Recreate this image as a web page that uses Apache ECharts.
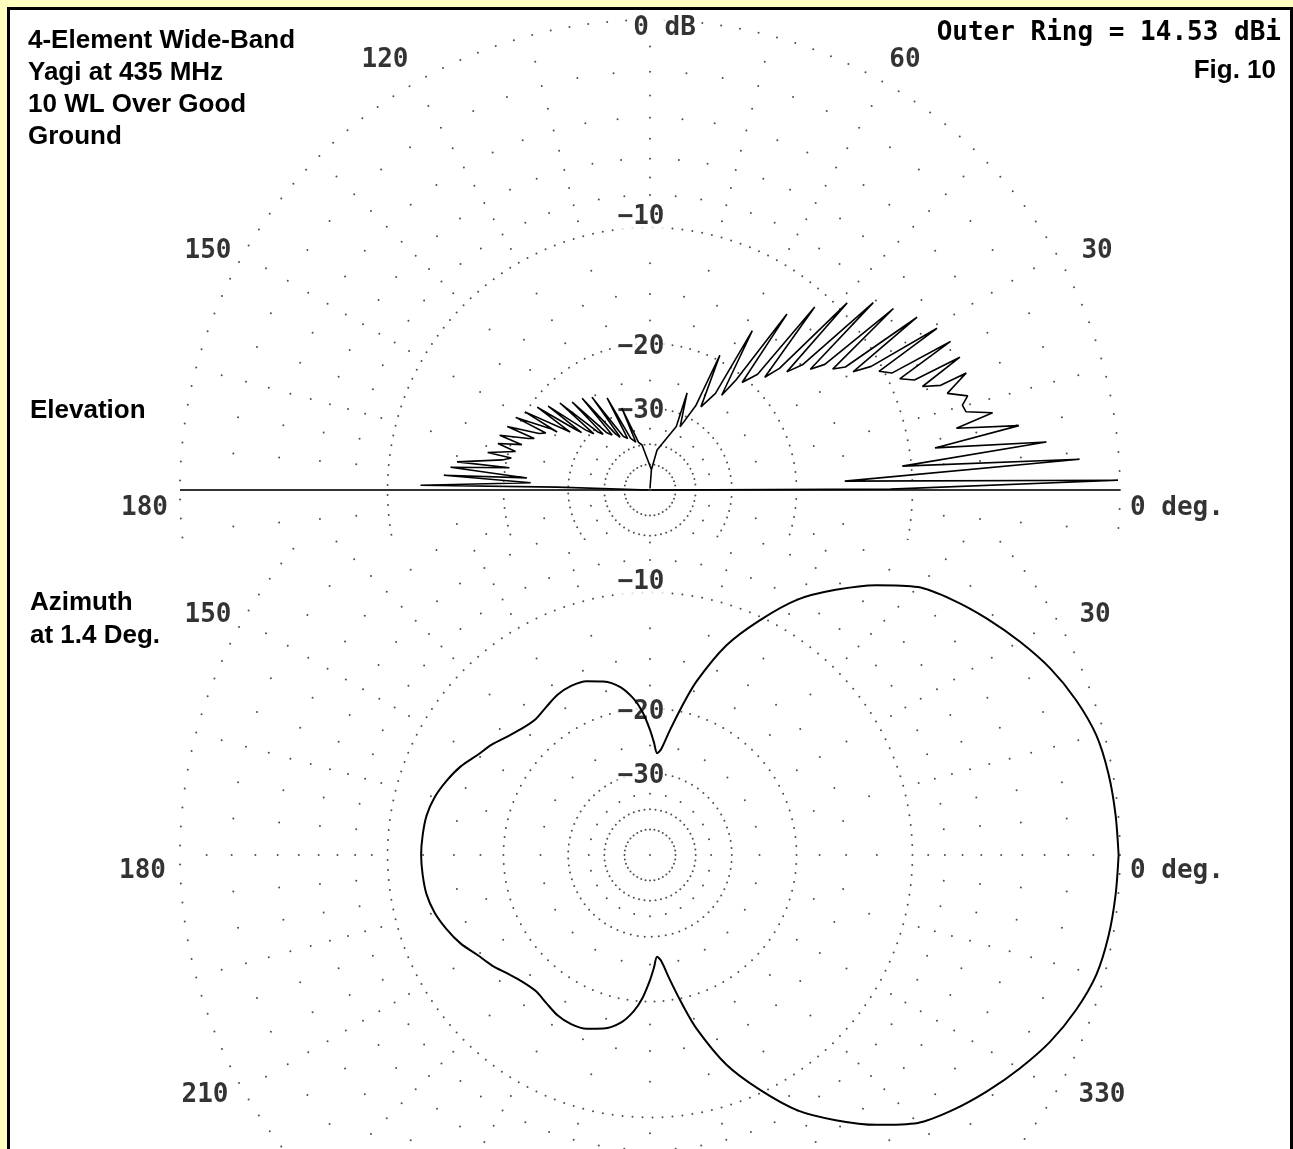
<!DOCTYPE html>
<html>
<head>
<meta charset="utf-8">
<script src="https://cdn.jsdelivr.net/npm/echarts@6/dist/echarts.min.js"></script>
<style>
  html, body { margin: 0; padding: 0; width: 1293px; height: 1149px; overflow: hidden; background: #ffffc0; }
  #frame { position: absolute; left: 7px; top: 7px; width: 1280px; height: 1170px;
           border-left: 3px solid #000; border-top: 3px solid #000; border-right: 3px solid #000; background: #fff; }
  #elev { position: absolute; left: 0; top: 0; width: 1293px; height: 540px; }
  #azim { position: absolute; left: 0; top: 540px; width: 1293px; height: 609px; }
</style>
</head>
<body>
<div id="frame"></div>
<div id="elev"></div>
<div id="azim"></div>
<script>
// ---------------- pattern data (dB relative to the outer ring) ----------------
// Elevation trace, in drawing order from 180 deg (rear horizon) over the zenith to 0 deg.
const elevAngles = [
  180, 178.2, 178.8, 176.5, 175.9, 174.4, 173.5, 171.0, 171.7, 168.5,
  167.0, 167.0, 164.0,  163.5, 163.0, 160.5,  160.0, 160.0, 157.0,
  156.0, 156.0, 153.0,  151.3, 151.6, 148.3,  148.0, 148.0, 145.0,
  144.0, 143.7, 141.0,  140.0, 140.5, 137.0,  135.0, 136.0, 132.0,
  130.0, 131.5, 127.0,  124.5, 126.5, 121.5,  119.5, 122.0, 116.5,
  113.5, 115.0, 110.5,  106.5, 109.0, 103.5,
  100.0, 86.0, 90.0, 86.0, 80.0,
  67.5, 69.1, 64.5,  61.5, 62.6, 58.5,  55.9, 57.3, 52.9,  52.0, 52.1, 49.4,
  47.1, 48.0, 44.5,  43.2, 43.5, 40.8,  39.4, 40.0, 37.0,  35.7, 36.7, 33.5,
  32.2, 32.9, 30.2,  29.2, 29.4, 27.4,  25.8, 26.3, 24.0,  22.6, 23.2, 20.8,
  19.8, 20.3, 18.0,
  16.5, 15.2, 13.9, 12.7, 11.4, 9.9, 8.4, 6.9, 5.4, 4.1, 2.6, 1.2, 0.2, 0
];
const elevDb = [
  -99, -27.8, -12.3, -23.5, -14.1, -22.9, -14.6, -20.5, -15.1, -19.5,
  -20.5, -17.8, -20.8,  -21.0, -18.6, -21.3,  -21.5, -18.5, -21.8,
  -22.5, -18.9, -22.8,  -23.6, -19.3, -23.9,  -25.0, -19.9, -25.3,
  -26.8, -20.8, -27.1,  -28.5, -21.8, -28.8,  -30.5, -22.7, -30.8,
  -32.0, -23.8, -32.3,  -33.5, -24.3, -33.8,  -35.0, -25.0, -35.3,
  -36.5, -26.3, -36.8,  -38.5, -29.0, -38.8,
  -40, -54, -99, -54, -42,
  -33, -25.9, -32.7,  -27.3, -19.4, -27.0,  -23.9, -15.6, -23.6,  -20.9, -12.8, -20.6,
  -18.7, -11.1, -18.4,  -16.7, -9.4, -16.4,  -14.9, -8.2, -14.6,  -13.4, -7.5, -13.1,
  -12.2, -6.7, -11.9,  -10.6, -6.1, -10.3,  -9.6, -5.8, -9.3,  -8.5, -5.7, -8.2,
  -7.2, -5.7, -7.0,
  -6.0, -6.4, -6.3, -5.0, -7.0, -3.9, -8.4, -2.8, -10.6, -1.5, -15.1, -0.07, -11.5, -99
];

// Azimuth trace at 1.4 deg elevation.
const azAngles = [
  0, 5, 10, 15, 20, 25, 30, 35, 40, 45, 50, 55, 60, 65, 70, 75, 78, 81, 84, 86, 88,
  90, 93, 96, 100, 105, 110, 115, 120, 125, 130, 135, 140, 145, 150, 155, 160, 165,
  170, 175, 180, 185, 190, 195, 200, 205, 210, 215, 220, 225, 230, 235, 240, 245,
  250, 255, 260, 264, 267, 270, 272, 274, 276, 279, 282, 285, 290, 295, 300, 305,
  310, 315, 320, 325, 330, 335, 340, 345, 350, 355, 360
];
const azDb = [
  -0.05, -0.10, -0.16, -0.29, -0.62, -1.07, -1.65, -2.27, -2.93, -3.70, -4.95, -6.4,
  -8.0, -10.25, -12.8, -16.5, -19.5, -22.6, -25.5, -26.2, -24.5,
  -22.7, -20.4, -18.8, -17.4, -16.5, -16.0, -15.85, -16.0, -16.4, -16.7, -16.5,
  -16.0, -15.3, -14.7, -13.9, -13.3, -12.8, -12.5, -12.4, -12.35, -12.4, -12.5,
  -12.8, -13.3, -13.9, -14.7, -15.3, -16.0, -16.5, -16.7, -16.4, -16.0, -15.85,
  -16.0, -16.5, -17.4, -18.8, -20.4, -22.7, -24.5, -26.2, -25.5, -22.6, -19.5,
  -16.5, -12.8, -10.25, -8.0, -6.4, -4.95, -3.70, -2.93, -2.27, -1.65, -1.07,
  -0.62, -0.29, -0.16, -0.10, -0.05
];

// ---------------- labels ----------------
const titleLines = ['4-Element Wide-Band', 'Yagi at 435 MHz', '10 WL Over Good', 'Ground'];
const outerRingText = 'Outer Ring = 14.53 dBi';
const figText = 'Fig. 10';
const elevTitle = 'Elevation';
const azTitleLines = ['Azimuth', 'at 1.4 Deg.'];

const elevRingLabelDb = [0, -10, -20, -30];
const elevRingLabels = ['0 dB', '\u221210', '\u221220', '\u221230'];
const azRingLabelDb = [-10, -20, -30];
const azRingLabels = ['\u221210', '\u221220', '\u221230'];

const elevTickAngles = [0, 30, 60, 120, 150, 180];
const elevTickLabels = ['0 deg.', '30', '60', '120', '150', '180'];
const azTickAngles = [0, 30, 150, 180, 210, 330];
const azTickLabels = ['0 deg.', '30', '150', '180', '210', '330'];

// ---------------- scale ----------------
const PLOT_R = 470;                 // outer ring radius, px
// ARRL log-periodic scale: radius shrinks by a factor 0.89 every 2 dB.
function toRadius(db) { return Math.pow(0.89, -db / 2); }

const MONO = '"DejaVu Sans Mono", "Liberation Mono", monospace';
const SANS = '"Liberation Sans", Arial, sans-serif';

// grid rings: dotted major circles and a sparser lattice of dots
const majorRings = [0, -10, -20, -30, -40, -50];
const majorDotGap = [19, 10, 9, 7, 5.5, 4.5];
const latticeRings = [-1, -2, -3, -4, -5, -6, -7, -8, -9, -12.5, -15, -17.5, -25, -35];
const latticeStep = [15, 5, 15, 5, 15, 5, 15, 5, 15, 15, 10, 15, 15, 15];

function gridDots() {
  const pts = [[0, 0]];
  majorRings.forEach((db, i) => {
    const r = toRadius(db);
    const n = Math.round(2 * Math.PI * PLOT_R * r / majorDotGap[i]);
    for (let k = 0; k < n; k++) pts.push([r, k * 360 / n]);
  });
  latticeRings.forEach((db, i) => {
    const r = toRadius(db);
    for (let a = 0; a < 360; a += latticeStep[i]) pts.push([r, a]);
  });
  return pts;
}

function gridSeries() {
  return {
    type: 'scatter', coordinateSystem: 'polar', silent: true, clip: false,
    symbol: 'circle', symbolSize: 2, z: 1,
    itemStyle: { color: '#222' },
    data: gridDots()
  };
}

function traceSeries(angles, dbs, width, smooth) {
  return {
    type: 'line', coordinateSystem: 'polar', showSymbol: false, silent: true, clip: false,
    z: 5, smooth: smooth || false, lineStyle: { color: '#000', width: width },
    data: angles.map((a, i) => [toRadius(dbs[i]), a])
  };
}

function labelSeries(items) {
  return {
    type: 'scatter', coordinateSystem: 'polar', symbolSize: 0, silent: true, clip: false, z: 3,
    data: items.map(it => ({
      value: [it.r, it.angle],
      label: {
        show: true, position: 'inside', formatter: it.text, align: it.align || 'center',
        verticalAlign: 'middle', offset: it.offset,
        fontFamily: MONO, fontSize: 26, fontWeight: 'bold', color: '#000',
        backgroundColor: it.bg || 'transparent'
      }
    }))
  };
}

function baseAxes(cy) {
  return {
    polar: { center: [650, cy], radius: PLOT_R },
    angleAxis: { type: 'value', min: 0, max: 360, startAngle: 0, clockwise: false, show: false },
    radiusAxis: { type: 'value', min: 0, max: 1, show: false }
  };
}

function sansText(text, x, y, align) {
  return {
    type: 'text', silent: true, z: 10,
    style: { text: text, x: x, y: y + 3, font: 'bold 26px ' + SANS, fill: '#000',
             align: align || 'left', verticalAlign: 'middle',
             textAlign: align || 'left', textVerticalAlign: 'middle' }
  };
}
function monoText(text, x, y, align) {
  return {
    type: 'text', silent: true, z: 10,
    style: { text: text, x: x, y: y + 3, font: 'bold 26px ' + MONO, fill: '#000',
             align: align || 'left', verticalAlign: 'middle',
             textAlign: align || 'left', textVerticalAlign: 'middle' }
  };
}

// ---------------- elevation chart ----------------
const elevTickOffsets = { 0: [10, 18], 30: [40, -4], 60: [20, -23], 120: [-30, -23], 150: [-35, -4], 180: [-12, 18] };
const elevTickAlign = { 0: 'left', 180: 'right' };
const ringOffsets = { 0: [14.5, 8], '-10': [-9, -10], '-20': [-9, 4], '-30': [-9, 3] };

const elevLabels = [];
elevRingLabelDb.forEach((db, i) => elevLabels.push({
  r: toRadius(db), angle: 90, text: elevRingLabels[i], offset: ringOffsets[db], bg: '#fff' }));
elevTickAngles.forEach((a, i) => elevLabels.push({
  r: 1, angle: a, text: elevTickLabels[i], offset: elevTickOffsets[a], align: elevTickAlign[a] }));

const elevChart = echarts.init(document.getElementById('elev'), null, { renderer: 'canvas' });
elevChart.setOption(Object.assign(baseAxes(490), {
  animation: false,
  backgroundColor: 'transparent',
  graphic: [
    ...titleLines.map((t, i) => sansText(t, 28, 38 + 32 * i)),
    sansText(elevTitle, 30, 408),
    monoText(outerRingText, 1281, 30, 'right'),
    sansText(figText, 1276, 68, 'right')
  ],
  series: [
    gridSeries(),
    { type: 'line', coordinateSystem: 'polar', showSymbol: false, silent: true, clip: false, z: 4,
      lineStyle: { color: '#333', width: 2 }, data: [[1, 180], [1, 0]] },
    traceSeries(elevAngles, elevDb, 1.6),
    labelSeries(elevLabels)
  ]
}));

// ---------------- azimuth chart ----------------
const azTickOffsets = { 0: [10, 16], 30: [38, -5], 150: [-35, -5], 180: [-14, 16], 210: [-38, 5], 330: [45, 5] };
const azTickAlign = { 0: 'left', 180: 'right' };

const azLabels = [];
azRingLabelDb.forEach((db, i) => azLabels.push({
  r: toRadius(db), angle: 90, text: azRingLabels[i], offset: ringOffsets[db], bg: '#fff' }));
azTickAngles.forEach((a, i) => azLabels.push({
  r: 1, angle: a, text: azTickLabels[i], offset: azTickOffsets[a], align: azTickAlign[a] }));

const azChart = echarts.init(document.getElementById('azim'), null, { renderer: 'canvas' });
azChart.setOption(Object.assign(baseAxes(315), {
  animation: false,
  backgroundColor: 'transparent',
  graphic: azTitleLines.map((t, i) => sansText(t, 30, 60 + 33 * i)),
  series: [
    gridSeries(),
    traceSeries(azAngles, azDb, 2, 0.3),
    labelSeries(azLabels)
  ]
}));
</script>
</body>
</html>
